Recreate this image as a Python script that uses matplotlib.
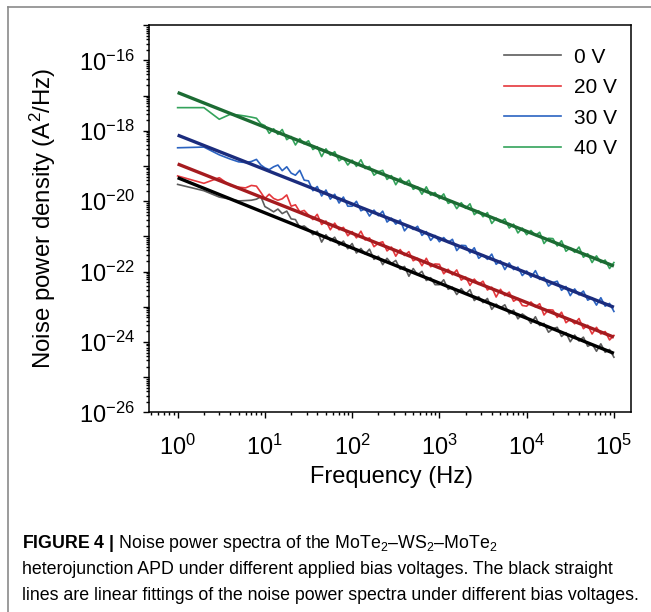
import numpy as np
import matplotlib
matplotlib.use('Agg')
import matplotlib.pyplot as plt
from matplotlib.lines import Line2D
from matplotlib.ticker import LogLocator, NullFormatter

plt.rcParams['font.family'] = ['Liberation Sans', 'DejaVu Sans']
plt.rcParams['mathtext.fontset'] = 'custom'
plt.rcParams['mathtext.rm'] = 'Liberation Sans'
plt.rcParams['mathtext.it'] = 'Liberation Sans:italic'
plt.rcParams['mathtext.bf'] = 'Liberation Sans:bold'

# frequencies (Hz): first points, then ~20 per decade
freq_low = [1, 2, 3, 4, 5, 6, 7, 8, 9]
mant = [1.0, 1.12, 1.26, 1.41, 1.58, 1.78, 2.0, 2.24, 2.51, 2.82,
        3.16, 3.55, 3.98, 4.47, 5.01, 5.62, 6.31, 7.08, 7.94, 8.91]
freq = freq_low + [m * 10**d for d in (1, 2, 3, 4) for m in mant] + [1e5]

# log10 of noise power density (A^2/Hz)
log_0v = [-19.52, -19.70, -19.88, -19.94, -19.99, -19.98, -19.97, -19.94, -19.87,
          -20.15, -20.22, -20.30, -20.22, -20.35, -20.28, -20.50, -20.52, -20.74, -20.70,
          -20.80, -20.95, -20.85, -21.16, -20.95, -21.12, -21.02, -21.25, -21.13, -21.35,
          -21.20, -21.47, -21.34, -21.50, -21.36, -21.65, -21.56, -21.80, -21.62, -21.77,
          -21.68, -21.93, -21.85, -22.13, -21.91, -22.09, -21.99, -22.25, -22.17, -22.37,
          -22.37, -22.23, -22.50, -22.44, -22.65, -22.48, -22.64, -22.51, -22.82, -22.71,
          -22.88, -22.76, -23.07, -22.92, -23.03, -22.94, -23.20, -23.09, -23.34, -23.20,
          -23.29, -23.47, -23.28, -23.53, -23.47, -23.72, -23.62, -23.58, -23.84, -23.73,
          -23.99, -23.80, -23.97, -23.86, -24.12, -24.05, -24.26, -24.05, -24.29, -24.21,
          -24.43]
log_20v = [-19.28, -19.49, -19.33, -19.55, -19.60, -19.62, -19.55, -19.57, -19.75,
           -19.92, -19.80, -19.92, -19.97, -19.93, -19.82, -20.14, -20.10, -20.30, -20.26,
           -20.39, -20.52, -20.37, -20.66, -20.56, -20.81, -20.62, -20.81, -20.74, -20.98,
           -20.86, -21.04, -20.85, -21.10, -21.04, -21.29, -21.19, -21.15, -21.41, -21.30,
           -21.56, -21.37, -21.54, -21.43, -21.69, -21.62, -21.83, -21.62, -21.86, -21.78,
           -21.79, -22.06, -21.93, -22.09, -21.95, -22.24, -22.15, -22.39, -22.21, -22.36,
           -22.27, -22.52, -22.44, -22.72, -22.50, -22.68, -22.58, -22.84, -22.76, -22.96,
           -22.98, -22.86, -23.00, -22.91, -23.23, -23.08, -23.09, -23.30, -23.15, -23.45,
           -23.35, -23.48, -23.33, -23.62, -23.52, -23.77, -23.58, -23.77, -23.70, -23.94,
           -23.81]
log_30v = [-18.48, -18.46, -18.68, -18.80, -18.88, -18.90, -18.87, -18.81, -18.97,
           -19.05, -19.10, -19.02, -18.97, -19.13, -19.02, -19.20, -19.26, -19.12, -19.40,
           -19.42, -19.70, -19.58, -19.85, -19.68, -19.94, -19.80, -20.05, -19.88, -20.14,
           -20.14, -20.00, -20.27, -20.21, -20.42, -20.25, -20.41, -20.28, -20.59, -20.48,
           -20.65, -20.53, -20.84, -20.69, -20.80, -20.71, -20.97, -20.86, -21.11, -20.97,
           -21.15, -21.03, -21.17, -21.08, -21.40, -21.25, -21.26, -21.47, -21.32, -21.62,
           -21.52, -21.65, -21.50, -21.79, -21.69, -21.94, -21.75, -21.94, -21.87, -22.11,
           -21.98, -22.16, -21.97, -22.22, -22.16, -22.41, -22.31, -22.27, -22.53, -22.42,
           -22.68, -22.49, -22.66, -22.55, -22.81, -22.74, -22.95, -22.74, -22.98, -22.90,
           -23.13]
log_40v = [-17.34, -17.34, -17.67, -17.53, -17.55, -17.58, -17.61, -17.64, -17.80,
           -17.85, -18.07, -17.94, -18.10, -17.96, -18.25, -18.16, -18.40, -18.22, -18.37,
           -18.28, -18.53, -18.45, -18.73, -18.51, -18.69, -18.59, -18.85, -18.77, -18.97,
           -18.83, -19.01, -18.82, -19.07, -19.01, -19.26, -19.16, -19.12, -19.38, -19.27,
           -19.53, -19.34, -19.51, -19.40, -19.66, -19.59, -19.80, -19.59, -19.83, -19.75,
           -19.93, -19.79, -20.06, -20.00, -20.21, -20.04, -20.20, -20.07, -20.38, -20.27,
           -20.44, -20.32, -20.63, -20.48, -20.59, -20.50, -20.76, -20.65, -20.90, -20.76,
           -20.95, -20.83, -20.97, -20.88, -21.20, -21.05, -21.06, -21.27, -21.12, -21.42,
           -21.32, -21.45, -21.30, -21.59, -21.49, -21.74, -21.55, -21.74, -21.67, -21.91,
           -21.74]

# linear fits (log10 value at 1 Hz and at 1e5 Hz)
fit_f = [1, 1e5]
fit_0v = [-19.33, -24.32]
fit_20v = [-18.94, -23.86]
fit_30v = [-18.12, -23.01]
fit_40v = [-16.91, -21.84]

labels = ['0 V', '20 V', '30 V', '40 V']
raw_colors = ['#5c5c5c', '#e5373c', '#2b63c1', '#34a35b']
fit_colors = ['#000000', '#a51b1f', '#1b2c7d', '#1c6b33']

fig = plt.figure(figsize=(6.51, 6.12), dpi=100)
ax = fig.add_axes([0.2289, 0.326, 0.7404, 0.6327])

series = [log_0v, log_20v, log_30v, log_40v]
fits = [fit_0v, fit_20v, fit_30v, fit_40v]
for vals, c, lab in zip(series, raw_colors, labels):
    ax.plot(freq, 10.0 ** np.array(vals), color=c, lw=1.2, label=lab)
for fit, fc in zip(fits, fit_colors):
    ax.plot(fit_f, 10.0 ** np.array(fit), color=fc, lw=2.4, solid_capstyle='butt')

ax.set_xscale('log')
ax.set_yscale('log')
ax.set_xlim(0.47, 1.57e5)
ax.set_ylim(1e-26, 1e-15)

xt = [10.0 ** e for e in range(0, 6)]
ax.set_xticks(xt)
ax.set_xticklabels([r'$\mathregular{10^{%d}}$' % e for e in range(0, 6)])
ax.xaxis.set_minor_locator(LogLocator(base=10, subs=np.arange(2, 10), numticks=100))
ax.xaxis.set_minor_formatter(NullFormatter())

yexp = list(range(-26, -14))
ax.set_yticks([10.0 ** e for e in yexp])
ax.set_yticklabels([r'$\mathregular{10^{%d}}$' % e if e % 2 == 0 else '' for e in yexp])
ax.yaxis.set_minor_locator(LogLocator(base=10, subs=np.arange(2, 10), numticks=100))
ax.yaxis.set_minor_formatter(NullFormatter())

ax.tick_params(which='both', direction='out', top=False, right=False, width=1.0)
ax.tick_params(which='major', length=4, labelsize=17, pad=6)
ax.tick_params(axis='x', which='major', pad=12)
ax.tick_params(which='minor', length=2.2)
for s in ax.spines.values():
    s.set_linewidth(1.1)

ax.legend(loc='upper left', bbox_to_anchor=(0.737, 0.942), frameon=False, fontsize=15,
          handlelength=2.74, handletextpad=0.62, labelspacing=0.55, borderpad=0,
          borderaxespad=0)

fig.text(391 / 651, 1 - 477 / 612, 'Frequency (Hz)', ha='center', va='center', fontsize=17)
fig.text(43 / 651, 1 - 218 / 612, 'Noise power density (A$^2$/Hz)', rotation=90,
         ha='center', va='center', fontsize=17.3)

# frame around the figure panel
fig.add_artist(Line2D([8 / 651, 8 / 651], [0, 1 - 7 / 612], transform=fig.transFigure,
                      color='#8a8a8a', lw=1.2))
fig.add_artist(Line2D([8 / 651, 1], [1 - 7 / 612, 1 - 7 / 612], transform=fig.transFigure,
                      color='#8a8a8a', lw=1.2))

caption = [r'$\mathbf{FIGURE\ 4\ |}$ Noise power spectra of the MoTe$_2$–WS$_2$–MoTe$_2$',
           'heterojunction APD under different applied bias voltages. The black straight',
           'lines are linear fittings of the noise power spectra under different bias voltages.']
for i, line in enumerate(caption):
    fig.text(22 / 651, 1 - (543 + 26 * i) / 612, line, ha='left', va='center', fontsize=12.8)

fig.savefig('out.png', dpi=100)
